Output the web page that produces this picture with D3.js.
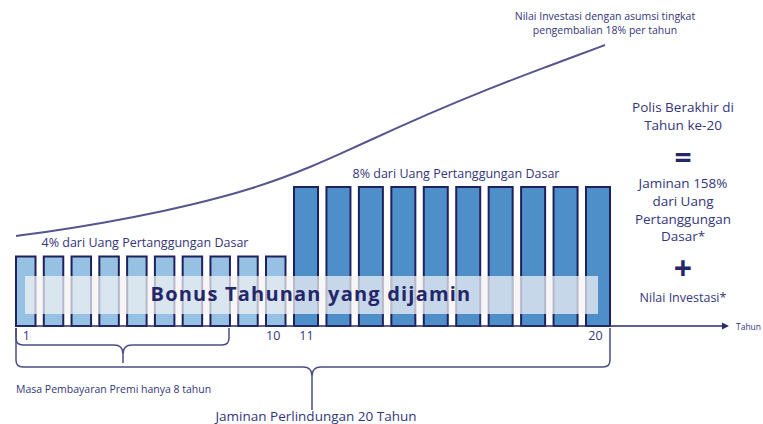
<!DOCTYPE html>
<html>
<head>
<meta charset="utf-8">
<script src="https://cdn.jsdelivr.net/npm/d3@7"></script>
<style>
  body { margin: 0; background: #fff; }
  svg { font-family: "Open Sans", sans-serif; }
</style>
</head>
<body>
<svg width="763" height="424"></svg>
<script>
// data
var years = d3.range(1, 21);
var bonusPct = [4, 4, 4, 4, 4, 4, 4, 4, 4, 4, 8, 8, 8, 8, 8, 8, 8, 8, 8, 8];
var tickYears = [1, 10, 11, 20];
// investment value index (year 0..20)
var curveYears = d3.range(0, 21);
var investIdx = [90, 94, 98.5, 103.5, 109, 115, 121.5, 129, 137.5, 147.5, 159, 172, 185.5, 199, 212, 224.5, 236.5, 248, 259, 270, 281];

var navy = "#25266a", textCol = "#34367a";

var svg = d3.select("svg");

var baseY = 326;
var x = d3.scaleLinear().domain([1, 10, 11, 20]).range([16, 266, 294, 586]);
var barW = function (yr) { return yr <= 10 ? 19.5 : 24; };
var y = d3.scaleLinear().domain([0, 8]).range([baseY, 187]);

var xc = d3.scaleLinear().domain([0, 20]).range([16, 605]);
var yc = d3.scaleLinear().domain([0, 282]).range([baseY, 44]);

// curve
svg.append("path")
  .datum(curveYears)
  .attr("fill", "none")
  .attr("stroke", "#55568f")
  .attr("stroke-width", 2)
  .attr("d", d3.line()
    .x(function (d) { return xc(d); })
    .y(function (d, i) { return yc(investIdx[i]); })
    .curve(d3.curveBasis));

// bars
svg.selectAll(".bar")
  .data(years)
  .enter().append("rect")
  .attr("class", "bar")
  .attr("x", function (d) { return x(d); })
  .attr("width", function (d) { return barW(d); })
  .attr("y", function (d, i) { return y(bonusPct[i]); })
  .attr("height", function (d, i) { return baseY - y(bonusPct[i]); })
  .attr("fill", function (d, i) { return bonusPct[i] == 4 ? "#97c1e3" : "#4f8fc9"; })
  .attr("stroke", "#1f205e")
  .attr("stroke-width", 2);

// banner
svg.append("rect")
  .attr("x", 25).attr("y", 276).attr("width", 573).attr("height", 38)
  .attr("fill", "#f2f2f4").attr("opacity", 0.72);
svg.append("text")
  .attr("x", 311).attr("y", 301)
  .attr("text-anchor", "middle")
  .attr("font-size", 20).attr("font-weight", "bold")
  .attr("letter-spacing", 1.2)
  .attr("fill", navy)
  .text("Bonus Tahunan yang dijamin");

// axis line + arrow
svg.append("line")
  .attr("x1", 16).attr("x2", 724).attr("y1", baseY).attr("y2", baseY)
  .attr("stroke", "#2a2b68").attr("stroke-width", 1.5);
svg.append("path")
  .attr("d", "M722,322.5 L729,326 L722,329.5 Z")
  .attr("fill", "#2a2b68");
svg.append("text")
  .attr("x", 736).attr("y", 329.5)
  .attr("font-size", 8.5).attr("fill", textCol)
  .text("Tahun");

// tick labels
var xTick = d3.scaleLinear().domain(x.domain())
  .range(x.range().map(function (r, i) { return r + barW(x.domain()[i]) / 2 - (i % 2 ? 3 : 0); }));
var ax = svg.append("g")
  .attr("transform", "translate(0," + (baseY + 5) + ")")
  .call(d3.axisBottom(xTick).tickValues(tickYears).tickSize(0).tickPadding(0));
ax.select(".domain").remove();
ax.selectAll("text")
  .attr("font-family", "Open Sans, sans-serif")
  .attr("font-size", 12.5).attr("fill", textCol);

// braces
function brace(x1, x2, yTop, yBar, xMid, yTip) {
  var r = 7, w = 9;
  return "M" + x1 + "," + yTop +
    "L" + x1 + "," + (yBar - r) +
    "Q" + x1 + "," + yBar + " " + (x1 + r) + "," + yBar +
    "L" + (xMid - w) + "," + yBar +
    "Q" + xMid + "," + yBar + " " + xMid + "," + (yBar + w) +
    "L" + xMid + "," + yTip +
    "M" + xMid + "," + (yBar + w) +
    "Q" + xMid + "," + yBar + " " + (xMid + w) + "," + yBar +
    "L" + (x2 - r) + "," + yBar +
    "Q" + x2 + "," + yBar + " " + x2 + "," + (yBar - r) +
    "L" + x2 + "," + yTop;
}
svg.append("path")
  .attr("d", brace(16, 229, 328, 345, 123, 363))
  .attr("fill", "none").attr("stroke", "#4b4c85").attr("stroke-width", 1.5);
svg.append("path")
  .attr("d", brace(16, 610, 328, 367, 312, 410))
  .attr("fill", "none").attr("stroke", "#4b4c85").attr("stroke-width", 1.5);

function label(tx, ty, s, size, anchor) {
  svg.append("text")
    .attr("x", tx).attr("y", ty)
    .attr("text-anchor", anchor || "middle")
    .attr("font-size", size).attr("fill", textCol)
    .text(s);
}

label(16, 393, "Masa Pembayaran Premi hanya 8 tahun", 10.5, "start");
label(316, 421, "Jaminan Perlindungan 20 Tahun", 13.5);

label(145, 247, "4% dari Uang Pertanggungan Dasar", 12.5);
label(456, 178, "8% dari Uang Pertanggungan Dasar", 12.5);

label(605, 20, "Nilai Investasi dengan asumsi tingkat", 10.5);
label(605, 34, "pengembalian 18% per tahun", 10.5);

// right panel
label(683, 112, "Polis Berakhir di", 13.5);
label(683, 130, "Tahun ke-20", 13.5);
svg.append("text").attr("x", 683).attr("y", 168).attr("text-anchor", "middle")
  .attr("font-size", 30).attr("font-weight", "bold").attr("fill", navy).text("=");
label(683, 188, "Jaminan 158%", 13.5);
label(683, 206, "dari Uang", 13.5);
label(683, 224, "Pertanggungan", 13.5);
label(683, 241, "Dasar*", 13.5);
svg.append("text").attr("x", 683).attr("y", 280).attr("text-anchor", "middle")
  .attr("font-size", 32).attr("font-weight", "bold").attr("fill", navy).text("+");
label(683, 302, "Nilai Investasi*", 12.5);
</script>
</body>
</html>
